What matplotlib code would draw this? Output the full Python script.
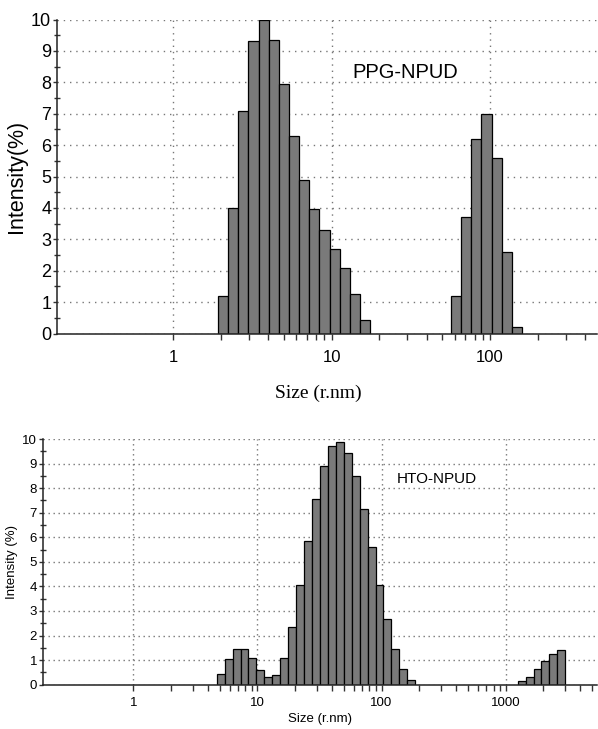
import numpy as np
import matplotlib
matplotlib.use("Agg")
import matplotlib.pyplot as plt
from matplotlib.ticker import NullFormatter, FixedLocator, MultipleLocator

plt.rcParams['font.family'] = ['Liberation Sans', 'DejaVu Sans']

# PPG-NPUD size distribution (size classes in nm, intensity in %)
ppg_size = [2.07, 2.40, 2.78, 3.22, 3.73, 4.33, 5.01, 5.81, 6.73, 7.80, 9.04,
            10.47, 12.13, 14.06, 16.29,
            61.1, 70.8, 82.0, 95.1, 110.2, 127.6, 147.9]
ppg_int = [1.2, 4.0, 7.1, 9.3, 10.0, 9.35, 7.95, 6.3, 4.9, 3.95, 3.3,
           2.7, 2.1, 1.25, 0.43,
           1.2, 3.7, 6.2, 7.0, 5.6, 2.6, 0.2]

# HTO-NPUD size distribution
hto_size = [5.06, 5.86, 6.79, 7.87, 9.12, 10.57, 12.25, 14.19, 16.44, 19.05,
            22.08, 25.59, 29.65, 34.36, 39.81, 46.13, 53.46, 61.94, 71.78,
            83.18, 96.38, 111.7, 129.4, 150.0, 173.8,
            1346, 1560, 1808, 2095, 2428, 2814]
hto_int = [0.42, 1.04, 1.47, 1.47, 1.09, 0.6, 0.3, 0.41, 1.09, 2.36,
           4.06, 5.85, 7.54, 8.9, 9.73, 9.89, 9.45, 8.5, 7.14,
           5.6, 4.07, 2.66, 1.46, 0.64, 0.19,
           0.15, 0.33, 0.64, 0.97, 1.24, 1.41]

top_ticks = [1, 10, 100]
bot_ticks = [1, 10, 100, 1000]

half = 10 ** 0.032   # half a size class, in log units
W, H = 598, 729


def draw(ax, size, inten, xlim, xticks, gdash, fs_x, fs_y, pad_y, pad_x):
    size = np.array(size)
    left = size / half
    ax.bar(left, inten, width=size * half - left, align='edge', color='#7a7a7a',
           edgecolor='black', linewidth=0.9, zorder=3)
    ax.set_xscale('log')
    ax.set_xlim(xlim)
    ax.set_ylim(0, 10)
    for s in ['top', 'right']:
        ax.spines[s].set_visible(False)
    for s in ['left', 'bottom']:
        ax.spines[s].set_color('#222222')
        ax.spines[s].set_linewidth(1.1)
        ax.spines[s].set_zorder(4)
    ax.xaxis.set_major_locator(FixedLocator(xticks))
    ax.set_xticklabels([str(t) for t in xticks])
    minors = [m * d for d in xticks for m in range(2, 10)]
    ax.xaxis.set_minor_locator(FixedLocator(minors))
    ax.xaxis.set_minor_formatter(NullFormatter())
    ax.yaxis.set_major_locator(MultipleLocator(1))
    ax.yaxis.set_minor_locator(MultipleLocator(0.5))
    ax.tick_params(axis='x', which='both', direction='out', length=4,
                   width=1, color='#333333', labelsize=fs_x, pad=pad_x)
    ax.tick_params(axis='y', which='major', direction='out', length=3,
                   width=1, color='#333333', labelsize=fs_y, pad=pad_y)
    ax.tick_params(axis='y', which='minor', direction='inout', length=5,
                   width=1, color='#333333')
    ax.grid(True, which='major', color='#777777', linestyle=(0, gdash),
            linewidth=1.0, zorder=1)


fig = plt.figure(figsize=(W / 100, H / 100), dpi=100)

ax1 = fig.add_axes([56.7 / W, 1 - 333.5 / H, (597 - 56.7) / W, 314 / H])
draw(ax1, ppg_size, ppg_int, (0.1846, 473), top_ticks, (1, 3.5), 12, 13, 1, 8)
ax1.set_ylabel('Intensity(%)', fontsize=15.5, labelpad=3)
ax1.set_xlabel('Size (r.nm)', fontsize=14, family=['Liberation Serif', 'DejaVu Serif'])
ax1.xaxis.set_label_coords((318 - 56.7) / (597 - 56.7), -0.164)
fig.text(352.7 / W, 1 - 72.5 / H, 'PPG-NPUD', fontsize=14.5, va='center', ha='left')

ax2 = fig.add_axes([42.7 / W, 1 - 684.7 / H, (597 - 42.7) / W, 245.7 / H])
draw(ax2, hto_size, hto_int, (0.186, 5454), bot_ticks, (1, 2.6), 9.5, 9.5, 1, 5)
ax2.set_ylabel('Intensity (%)', fontsize=9.5, labelpad=3)
ax2.set_xlabel('Size (r.nm)', fontsize=9.5, labelpad=3)
fig.text(397 / W, 1 - 479 / H, 'HTO-NPUD', fontsize=11, va='center', ha='left')

fig.savefig('out.png', dpi=100)
